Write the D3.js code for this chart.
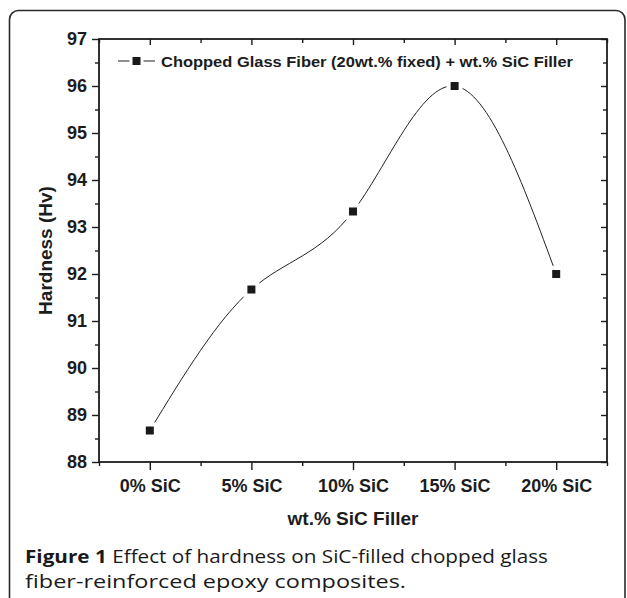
<!DOCTYPE html>
<html>
<head>
<meta charset="utf-8">
<script src="https://cdn.jsdelivr.net/npm/d3@7"></script>
<style>
  html, body { margin: 0; padding: 0; background: #fff; }
  svg { display: block; }
</style>
</head>
<body>
<svg id="chart" width="627" height="598"></svg>
<script>
// Hardness of SiC-filled chopped glass fiber / epoxy composites
const categories = ["0% SiC", "5% SiC", "10% SiC", "15% SiC", "20% SiC"];
const hardness = [88.67, 91.67, 93.33, 96.0, 92.0];
const yTicks = [88, 89, 90, 91, 92, 93, 94, 95, 96, 97];
const seriesLabel = "Chopped Glass Fiber (20wt.% fixed) + wt.% SiC Filler";
const xTitle = "wt.% SiC Filler";
const yTitle = "Hardness (Hv)";
const captionBold = "Figure 1";
const captionLine1 = " Effect of hardness on SiC-filled chopped glass";
const captionLine2 = "fiber-reinforced epoxy composites.";

const svg = d3.select("#chart");
const ink = "#1c1c1c";
const axisFont = "'Liberation Sans', Arial, Helvetica, sans-serif";

// figure frame with rounded corners, open at the bottom edge of the page
svg.append("rect")
  .attr("x", 9.5).attr("y", 10.5)
  .attr("width", 615.5).attr("height", 640)
  .attr("rx", 9).attr("ry", 9)
  .attr("fill", "none").attr("stroke", "#2a2a2a").attr("stroke-width", 1.6);

const plot = { left: 99, right: 607, top: 39, bottom: 462 };

const x = d3.scaleLinear().domain([0.5, categories.length + 0.5]).range([plot.left, plot.right]);
const y = d3.scaleLinear().domain([88, 97]).range([plot.bottom, plot.top]);

const majorX = categories.map((c, i) => i + 1);
const minorX = d3.range(0, categories.length + 1).map(i => i + 0.5);
const minorY = yTicks.slice(0, -1).map(v => v + 0.5);

function styleAxis(g) {
  g.select(".domain").remove();
  g.selectAll("line").attr("stroke", ink).attr("stroke-width", 1.4);
}

// left axis
svg.append("g").attr("transform", `translate(${plot.left},0)`)
  .call(d3.axisLeft(y).tickValues(yTicks).tickSize(7).tickPadding(5).tickFormat(d3.format("d")))
  .call(styleAxis)
  .call(g => g.selectAll("text")
    .attr("font-family", axisFont).attr("font-weight", "bold")
    .attr("font-size", 18).attr("fill", ink));
svg.append("g").attr("transform", `translate(${plot.left},0)`)
  .call(d3.axisLeft(y).tickValues(minorY).tickSize(4).tickFormat(""))
  .call(styleAxis);

// right axis, ticks pointing inward
svg.append("g").attr("transform", `translate(${plot.right},0)`)
  .call(d3.axisRight(y).tickValues(yTicks).tickSize(-6).tickFormat(""))
  .call(styleAxis);
svg.append("g").attr("transform", `translate(${plot.right},0)`)
  .call(d3.axisRight(y).tickValues(minorY).tickSize(-4).tickFormat(""))
  .call(styleAxis);

// bottom axis
svg.append("g").attr("transform", `translate(0,${plot.bottom})`)
  .call(d3.axisBottom(x).tickValues(majorX).tickSize(8).tickPadding(9)
    .tickFormat(d => categories[d - 1]))
  .call(styleAxis)
  .call(g => g.selectAll("text")
    .attr("font-family", axisFont).attr("font-weight", "bold")
    .attr("font-size", 18).attr("fill", ink));
svg.append("g").attr("transform", `translate(0,${plot.bottom})`)
  .call(d3.axisBottom(x).tickValues(minorX).tickSize(4).tickFormat(""))
  .call(styleAxis);

// top axis, ticks pointing inward
svg.append("g").attr("transform", `translate(0,${plot.top})`)
  .call(d3.axisTop(x).tickValues(majorX).tickSize(-6).tickFormat(""))
  .call(styleAxis);
svg.append("g").attr("transform", `translate(0,${plot.top})`)
  .call(d3.axisTop(x).tickValues(minorX).tickSize(-4).tickFormat(""))
  .call(styleAxis);

// plot box
svg.append("rect")
  .attr("x", plot.left).attr("y", plot.top)
  .attr("width", plot.right - plot.left).attr("height", plot.bottom - plot.top)
  .attr("fill", "none").attr("stroke", ink).attr("stroke-width", 1.8);

// smooth curve through the measurements
const pts = hardness.map((v, i) => [x(i + 1), y(v)]);
svg.append("path")
  .attr("d", d3.line().curve(d3.curveNatural)(pts))
  .attr("fill", "none").attr("stroke", "#222").attr("stroke-width", 1);

// markers with a white halo that breaks the curve around each point
const m = svg.append("g");
m.selectAll("rect.halo").data(pts).join("rect").attr("class", "halo")
  .attr("x", d => d[0] - 8).attr("y", d => d[1] - 8)
  .attr("width", 16).attr("height", 16).attr("fill", "#fff");
m.selectAll("rect.pt").data(pts).join("rect").attr("class", "pt")
  .attr("x", d => d[0] - 4).attr("y", d => d[1] - 4)
  .attr("width", 8).attr("height", 8).attr("fill", "#1a1a1a");

// legend
const lg = svg.append("g").attr("transform", "translate(118,61)");
lg.append("line").attr("x1", 0).attr("x2", 37).attr("y1", 0).attr("y2", 0)
  .attr("stroke", "#222").attr("stroke-width", 1);
lg.append("rect").attr("x", 11.5).attr("y", -7).attr("width", 14).attr("height", 14).attr("fill", "#fff");
lg.append("rect").attr("x", 14.5).attr("y", -4).attr("width", 8).attr("height", 8).attr("fill", "#1a1a1a");
lg.append("text").attr("x", 43).attr("y", 5.5)
  .attr("font-family", axisFont).attr("font-weight", "bold").attr("font-size", 15)
  .attr("fill", ink)
  .attr("textLength", 412).attr("lengthAdjust", "spacingAndGlyphs")
  .text(seriesLabel);

// axis titles
svg.append("text")
  .attr("x", (plot.left + plot.right) / 2).attr("y", 525)
  .attr("text-anchor", "middle")
  .attr("font-family", axisFont).attr("font-weight", "bold").attr("font-size", 19)
  .attr("fill", ink).text(xTitle);
svg.append("text")
  .attr("transform", `translate(52,${(plot.top + plot.bottom) / 2}) rotate(-90)`)
  .attr("text-anchor", "middle")
  .attr("font-family", axisFont).attr("font-weight", "bold").attr("font-size", 19)
  .attr("fill", ink).text(yTitle);

// caption
const capFont = "'Open Sans', 'Noto Sans', sans-serif";
const cap1 = svg.append("text").attr("x", 25).attr("y", 563)
  .attr("font-family", capFont).attr("font-size", 18.5).attr("fill", "#1a1a1a")
  .attr("textLength", 523).attr("lengthAdjust", "spacingAndGlyphs");
cap1.append("tspan").attr("font-weight", "bold").text(captionBold);
cap1.append("tspan").text(captionLine1);
svg.append("text").attr("x", 25).attr("y", 588)
  .attr("font-family", capFont).attr("font-size", 18.5).attr("fill", "#1a1a1a")
  .attr("textLength", 381).attr("lengthAdjust", "spacingAndGlyphs")
  .text(captionLine2);
</script>
</body>
</html>
